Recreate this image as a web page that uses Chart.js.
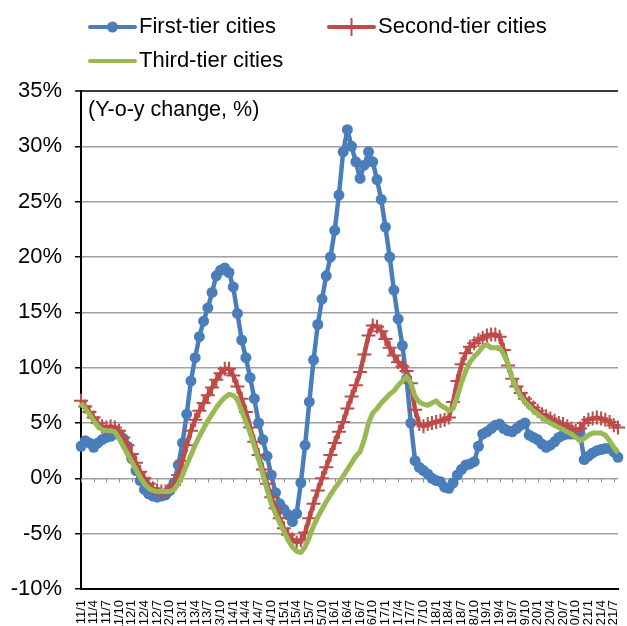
<!DOCTYPE html>
<html>
<head>
<meta charset="utf-8">
<title>Housing price change by city tier</title>
<script src="https://cdn.jsdelivr.net/npm/chart.js@4.4.1/dist/chart.umd.min.js"></script>
<style>
  html, body { margin: 0; padding: 0; background: #fff; overflow: hidden; }
  #wrap { width: 627px; height: 626px; }
</style>
</head>
<body>
<div id="wrap"><canvas id="grafico" width="627" height="626"></canvas></div>
<script>
// Monthly y-o-y change (%), Jan 2011 - Aug 2021
const firstYear = 11;
const lastYear = 21;
const lastMonth = 8;

const meses = [];
for (let a = firstYear; a <= lastYear; a++) {
  for (let m = 1; m <= 12; m++) {
    if (a === lastYear && m > lastMonth) break;
    meses.push(a + "/" + m);
  }
}

const primeiraLinha = [
  2.9, 3.4, 3.2, 2.8, 3.2, 3.5, 3.7, 3.8, 4.0, 4.0, 3.6, 2.9,
  1.8, 0.7, -0.2, -1.0, -1.4, -1.6, -1.7, -1.6, -1.5, -1.1, -0.4, 1.2,
  3.2, 5.8, 8.8, 10.9, 12.8, 14.2, 15.4, 16.8, 18.3, 18.8, 19.0, 18.6,
  17.3, 14.9, 12.5, 10.9, 9.1, 7.2, 5.0, 3.5, 2.0, 0.3, -1.3, -2.3,
  -2.8, -3.3, -3.9, -3.2, -0.4, 3.0, 6.9, 10.7, 13.9, 16.2, 18.3, 20.0,
  22.4, 25.6, 29.5, 31.5, 30.0, 28.6, 27.1, 28.3, 29.5, 28.6, 27.0, 25.2,
  22.7, 20.0, 17.0, 14.4, 12.0, 9.0, 5.0, 1.6, 1.0, 0.7, 0.4, 0.0,
  -0.2, -0.3, -0.8, -0.9, -0.4, 0.3, 0.8, 1.2, 1.3, 1.5, 2.9, 4.0,
  4.2, 4.5, 4.8, 4.9, 4.5, 4.3, 4.2, 4.5, 4.8, 5.0, 3.9, 3.7,
  3.5, 3.1, 2.8, 3.0, 3.3, 3.7, 3.9, 4.0, 4.0, 4.0, 4.1, 1.7,
  2.0, 2.3, 2.5, 2.6, 2.7, 2.7, 2.4, 1.9
];

const segundaLinha = [
  7.0, 6.5, 6.0, 5.5, 5.0, 4.7, 4.6, 4.7, 4.6, 4.3, 3.7, 3.0,
  2.2, 1.4, 0.6, 0.0, -0.5, -0.9, -1.1, -1.2, -1.2, -1.0, -0.6, 0.3,
  1.6, 3.0, 4.3, 5.3, 6.1, 6.8, 7.5, 8.2, 8.9, 9.5, 9.9, 9.9,
  9.3, 8.3, 7.2, 6.0, 4.6, 3.3, 2.1, 0.8, -0.5, -1.7, -2.7, -3.6,
  -4.5, -5.1, -5.5, -5.8, -5.6, -4.9, -3.6, -2.3, -1.1, 0.0, 1.0, 2.1,
  3.2, 4.2, 5.1, 6.3, 7.4, 8.4, 9.6, 11.2, 12.9, 13.8, 13.7, 13.3,
  12.6, 11.8, 11.1, 10.5, 10.1, 9.7, 8.6, 6.2, 4.9, 4.7, 4.9, 5.0,
  5.1, 5.2, 5.3, 5.5, 6.9, 8.8, 10.3, 11.3, 11.9, 12.2, 12.5, 12.7,
  12.9, 13.0, 13.0, 12.8, 11.6, 10.2, 9.0, 8.3, 7.7, 7.2, 6.8, 6.4,
  6.1, 5.8, 5.6, 5.4, 5.2, 5.0, 4.9, 4.7, 4.5, 4.3, 4.5, 5.0,
  5.3, 5.4, 5.5, 5.4, 5.3, 5.1, 4.8, 4.6
];

const terceiraLinha = [
  6.8, 6.3, 5.8, 5.2, 4.7, 4.4, 4.3, 4.3, 4.2, 3.6, 2.9, 2.2,
  1.5, 0.8, 0.1, -0.5, -0.9, -1.1, -1.2, -1.2, -1.2, -1.2, -1.0, -0.5,
  0.3, 1.2, 2.1, 3.0, 3.8, 4.5, 5.2, 5.8, 6.4, 6.9, 7.3, 7.6,
  7.5, 7.1, 6.1, 5.1, 4.1, 2.9, 1.7, 0.4, -1.0, -2.3, -3.2, -4.0,
  -4.8, -5.6, -6.2, -6.6, -6.7, -6.2, -5.3, -4.3, -3.5, -2.8, -2.1, -1.5,
  -0.9, -0.4, 0.2, 0.8, 1.4, 2.0, 2.4, 3.5, 5.0, 5.9, 6.3, 6.8,
  7.2, 7.6, 7.9, 8.4, 8.8, 9.2, 8.6, 7.4, 6.9, 6.7, 6.6, 6.8,
  7.0, 6.6, 6.4, 6.1, 6.3, 7.4, 8.7, 9.7, 10.5, 11.0, 11.4, 11.9,
  12.1, 11.8, 11.8, 11.8, 11.2, 10.3, 9.0, 8.1, 7.4, 6.9, 6.5, 6.1,
  5.8, 5.5, 5.2, 5.0, 4.8, 4.6, 4.4, 4.2, 4.0, 3.7, 3.4, 3.6,
  3.9, 4.1, 4.1, 4.1, 3.9, 3.4, 2.8, 2.3
];

const nomesSeries = ["First-tier cities", "Second-tier cities", "Third-tier cities"];
const limitesY = [-10, 35];
const passoY = 5;

const fonte = "'Liberation Sans', Arial, sans-serif";
const azul = "#4a7ebb";
const vermelho = "#be4b48";
const verde = "#98b954";

// legenda desenhada à mão, duas linhas como no original
const pluginLegenda = {
  id: "legendaManual",
  afterDraw(chart) {
    const ctx = chart.ctx;
    const itens = [
      { x: 90, y: 27, ds: 0 },
      { x: 329, y: 27, ds: 1 },
      { x: 90, y: 61, ds: 2 },
    ];
    ctx.save();
    ctx.font = "22px " + fonte;
    ctx.textBaseline = "middle";
    ctx.fillStyle = "#000";
    itens.forEach((it) => {
      const ds = chart.data.datasets[it.ds];
      ctx.strokeStyle = ds.borderColor;
      ctx.lineWidth = 4;
      ctx.lineCap = "round";
      ctx.beginPath();
      ctx.moveTo(it.x, it.y);
      ctx.lineTo(it.x + 45, it.y);
      ctx.stroke();
      const cx = it.x + 22.5;
      if (ds.pointStyle === "circle") {
        ctx.fillStyle = ds.borderColor;
        ctx.beginPath();
        ctx.arc(cx, it.y, 5.5, 0, Math.PI * 2);
        ctx.fill();
      } else if (ds.pointStyle === "cross") {
        ctx.lineWidth = 2;
        ctx.lineCap = "butt";
        ctx.beginPath();
        ctx.moveTo(cx, it.y - 9);
        ctx.lineTo(cx, it.y + 9);
        ctx.stroke();
      }
      ctx.fillStyle = "#000";
      ctx.fillText(ds.label, it.x + 49, it.y);
    });
    // nota da unidade dentro do gráfico
    ctx.font = "21.5px " + fonte;
    ctx.fillText("(Y-o-y change, %)", 88, 110);
    ctx.restore();
  },
};

// pequenas marcas do eixo de categorias sobre a linha do zero
const pluginMarcasZero = {
  id: "marcasZero",
  beforeDatasetsDraw(chart) {
    const ctx = chart.ctx;
    const x = chart.scales.x;
    const y0 = chart.scales.y.getPixelForValue(0);
    ctx.save();
    ctx.strokeStyle = "#8c8c8c";
    ctx.lineWidth = 1;
    for (let i = 0; i < meses.length; i += 3) {
      const px = Math.round(x.getPixelForValue(i)) + 0.5;
      ctx.beginPath();
      ctx.moveTo(px, y0);
      ctx.lineTo(px, y0 + 4);
      ctx.stroke();
    }
    ctx.restore();
  },
};

Chart.defaults.font.family = fonte;
Chart.defaults.color = "#000";

const grafico = new Chart(document.getElementById("grafico"), {
  type: "line",
  data: {
    labels: meses,
    datasets: [
      {
        label: nomesSeries[0],
        data: primeiraLinha,
        borderColor: azul,
        backgroundColor: azul,
        borderWidth: 4.5,
        pointStyle: "circle",
        pointRadius: 5.5,
        pointBorderWidth: 0,
        pointBackgroundColor: azul,
        order: 3,
      },
      {
        label: nomesSeries[1],
        data: segundaLinha,
        borderColor: vermelho,
        backgroundColor: vermelho,
        borderWidth: 4.5,
        pointStyle: "cross",
        pointRadius: 7,
        pointBorderWidth: 2,
        pointBorderColor: vermelho,
        order: 2,
      },
      {
        label: nomesSeries[2],
        data: terceiraLinha,
        borderColor: verde,
        backgroundColor: verde,
        borderWidth: 5,
        pointRadius: 0,
        pointStyle: "line",
        order: 1,
      },
    ],
  },
  options: {
    responsive: false,
    animation: false,
    devicePixelRatio: 1,
    layout: { padding: { top: 91, left: 0, right: 0, bottom: 0 } },
    plugins: {
      legend: { display: false },
      tooltip: { enabled: false },
    },
    elements: { line: { tension: 0, borderJoinStyle: "round" } },
    scales: {
      x: {
        type: "category",
        offset: false,
        grid: { display: false, drawTicks: false },
        border: { display: true, color: "#000", width: 2 },
        ticks: {
          autoSkip: false,
          minRotation: 90,
          maxRotation: 90,
          padding: 11,
          font: { size: 13 },
          color: "#000",
          callback: function (val, idx) {
            return idx % 3 === 0 ? this.getLabelForValue(val) : "";
          },
        },
        afterFit(scale) {
          scale.height = 37;
          scale.paddingLeft = 0;
          scale.paddingRight = 0;
        },
      },
      y: {
        min: limitesY[0],
        max: limitesY[1],
        grid: {
          color: (c) => (c.tick && c.tick.value === limitesY[1] ? "#3a3a3a" : "#a0a0a0"),
          lineWidth: (c) => (c.tick && c.tick.value === limitesY[1] ? 2 : 1.5),
          drawTicks: true,
          tickLength: 6,
          tickColor: "#000",
          tickWidth: 1.5,
        },
        border: { display: true, color: "#000", width: 2 },
        ticks: {
          stepSize: passoY,
          padding: 13,
          font: { size: 22 },
          color: "#000",
          callback: (v) => v + "%",
        },
        afterFit(scale) {
          scale.width = 81;
          scale.paddingTop = 0;
          scale.paddingBottom = 0;
        },
      },
    },
  },
  plugins: [pluginMarcasZero, pluginLegenda],
});
</script>
</body>
</html>
